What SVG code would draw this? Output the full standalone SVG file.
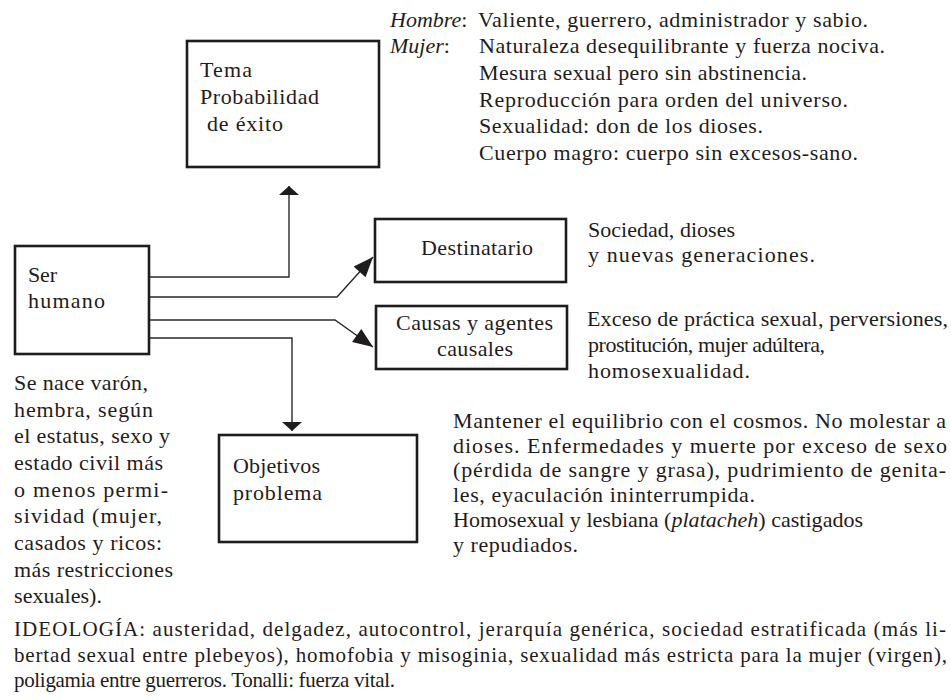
<svg xmlns="http://www.w3.org/2000/svg" width="951" height="700" viewBox="0 0 951 700">
<defs>
<style>
text{font-family:"Liberation Serif","Times New Roman",serif;font-size:22px;fill:#1f1c1d}
.it{font-style:italic}
.box{fill:#fff;stroke:#1f1c1d;stroke-width:2.6}
.con{fill:none;stroke:#2a2a2a;stroke-width:1.4}
.ideo{font-size:21px}
</style>
<marker id="flat" viewBox="-11 -11 12 22" refX="0" refY="0" markerWidth="12" markerHeight="22" markerUnits="userSpaceOnUse" orient="auto">
<path d="M0,0 L-9,-10 L-9,10 Z" fill="#1f1c1d"/>
</marker>
<marker id="diag" viewBox="-21 -9 22 18" refX="0" refY="0" markerWidth="22" markerHeight="18" markerUnits="userSpaceOnUse" orient="auto">
<path d="M0,0 L-20,-8 L-20,8 Z" fill="#1f1c1d"/>
</marker>
</defs>
<rect width="951" height="700" fill="#fff"/>

<g id="connectors">
<path class="con" d="M150,277 H289 V186" marker-end="url(#flat)"/>
<path class="con" d="M150,297 H337 L373,257" marker-end="url(#diag)"/>
<path class="con" d="M150,320 H335 L373,347" marker-end="url(#diag)"/>
<path class="con" d="M150,338 H292 V431" marker-end="url(#flat)"/>
</g>

<g id="tema">
<rect class="box" x="187" y="41" width="192" height="126"/>
<text x="200" y="77" textLength="52" lengthAdjust="spacing">Tema</text>
<text x="200" y="104" textLength="119" lengthAdjust="spacing">Probabilidad</text>
<text x="207" y="131" textLength="76" lengthAdjust="spacing">de éxito</text>
</g>

<g id="ser-humano">
<rect class="box" x="15" y="246" width="134" height="108"/>
<text x="28" y="282" textLength="29" lengthAdjust="spacing">Ser</text>
<text x="28" y="308" textLength="77" lengthAdjust="spacing">humano</text>
</g>

<g id="destinatario">
<rect class="box" x="375" y="219" width="191" height="63"/>
<text x="421" y="255" textLength="112" lengthAdjust="spacing">Destinatario</text>
</g>

<g id="causas">
<rect class="box" x="376" y="306" width="191" height="63"/>
<text x="396" y="330" textLength="157" lengthAdjust="spacing">Causas y agentes</text>
<text x="437" y="356" textLength="76" lengthAdjust="spacing">causales</text>
</g>

<g id="objetivos">
<rect class="box" x="219" y="435" width="198" height="107"/>
<text x="233" y="473" textLength="87" lengthAdjust="spacing">Objetivos</text>
<text x="233" y="500" textLength="89" lengthAdjust="spacing">problema</text>
</g>

<g id="hombre-mujer">
<text x="390" y="27"><tspan class="it">Hombre</tspan>:</text>
<text x="478" y="27" textLength="390" lengthAdjust="spacing">Valiente, guerrero, administrador y sabio.</text>
<text x="390" y="53"><tspan class="it">Mujer</tspan>:</text>
<text x="479" y="53" textLength="406" lengthAdjust="spacing">Naturaleza desequilibrante y fuerza nociva.</text>
<text x="479" y="80" textLength="328" lengthAdjust="spacing">Mesura sexual pero sin abstinencia.</text>
<text x="479" y="107" textLength="369" lengthAdjust="spacing">Reproducción para orden del universo.</text>
<text x="479" y="133" textLength="284" lengthAdjust="spacing">Sexualidad: don de los dioses.</text>
<text x="479" y="160" textLength="379" lengthAdjust="spacing">Cuerpo magro: cuerpo sin excesos-sano.</text>
</g>

<g id="destinatario-nota">
<text x="588" y="237" textLength="147" lengthAdjust="spacing">Sociedad, dioses</text>
<text x="588" y="262" textLength="227" lengthAdjust="spacing">y nuevas generaciones.</text>
</g>

<g id="causas-nota">
<text x="587" y="326" textLength="361" lengthAdjust="spacing">Exceso de práctica sexual, perversiones,</text>
<text x="588" y="352" textLength="237" lengthAdjust="spacing">prostitución, mujer adúltera,</text>
<text x="588" y="378" textLength="162" lengthAdjust="spacing">homosexualidad.</text>
</g>

<g id="ser-nota">
<text x="14" y="390" textLength="134" lengthAdjust="spacing">Se nace varón,</text>
<text x="14" y="417" textLength="139" lengthAdjust="spacing">hembra, según</text>
<text x="14" y="443" textLength="156" lengthAdjust="spacing">el estatus, sexo y</text>
<text x="14" y="470" textLength="149" lengthAdjust="spacing">estado civil más</text>
<text x="14" y="497" textLength="154" lengthAdjust="spacing">o menos permi-</text>
<text x="14" y="523" textLength="148" lengthAdjust="spacing">sividad (mujer,</text>
<text x="14" y="550" textLength="148" lengthAdjust="spacing">casados y ricos:</text>
<text x="14" y="577" textLength="159" lengthAdjust="spacing">más restricciones</text>
<text x="14" y="603" textLength="88" lengthAdjust="spacing">sexuales).</text>
</g>

<g id="objetivos-nota">
<text x="453" y="428" textLength="493" lengthAdjust="spacing">Mantener el equilibrio con el cosmos. No molestar a</text>
<text x="453" y="453" textLength="494" lengthAdjust="spacing">dioses. Enfermedades y muerte por exceso de sexo</text>
<text x="453" y="477" textLength="493" lengthAdjust="spacing">(pérdida de sangre y grasa), pudrimiento de genita-</text>
<text x="453" y="502" textLength="302" lengthAdjust="spacing">les, eyaculación ininterrumpida.</text>
<text x="453" y="527" textLength="410" lengthAdjust="spacing">Homosexual y lesbiana (<tspan class="it">platacheh</tspan>) castigados</text>
<text x="453" y="552" textLength="125" lengthAdjust="spacing">y repudiados.</text>
</g>

<g id="ideologia">
<text class="ideo" x="14" y="636" textLength="932" lengthAdjust="spacing">IDEOLOGÍA: austeridad, delgadez, autocontrol, jerarquía genérica, sociedad estratificada (más li-</text>
<text class="ideo" x="14" y="662" textLength="933" lengthAdjust="spacing">bertad sexual entre plebeyos), homofobia y misoginia, sexualidad más estricta para la mujer (virgen),</text>
<text class="ideo" x="14" y="687" textLength="381" lengthAdjust="spacing">poligamia entre guerreros. Tonalli: fuerza vital.</text>
</g>
</svg>
